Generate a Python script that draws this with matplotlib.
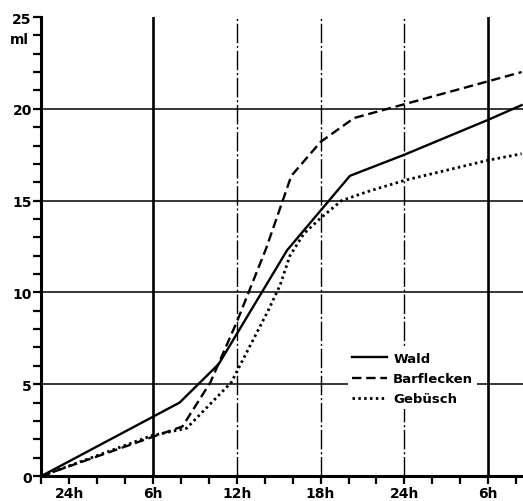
import matplotlib
matplotlib.use("Agg")
import matplotlib.pyplot as plt
from matplotlib.ticker import MultipleLocator, FixedLocator

plt.rcParams['font.family'] = ['DejaVu Sans']
plt.rcParams['font.weight'] = 'bold'

# time in hours, counted from midnight of the first day (start 22h)
wald_t = [22, 31.9, 34.7, 39.6, 44.1, 48, 54, 56.4]
wald_ml = [0, 4.0, 6.1, 12.3, 16.35, 17.5, 19.4, 20.2]

barf_t = [22, 32.1, 34.1, 36.0, 38.1, 39.9, 42, 44.4, 56.4]
barf_ml = [0, 2.7, 5.1, 8.4, 12.4, 16.35, 18.2, 19.5, 22.0]

gebu_t = [22, 29.9, 32.4, 35.6, 38.3, 39.1, 39.8, 40.8, 42, 43.5, 45.4, 48, 54, 56.4]
gebu_ml = [0, 2.2, 2.6, 5.1, 9.1, 10.4, 12.0, 13.2, 14.05, 15.0, 15.5, 16.1, 17.2, 17.55]

tick_hours = [24, 30, 36, 42, 48, 54]
tick_labels = ["24h", "6h", "12h", "18h", "24h", "6h"]
y_ticks = [0, 5, 10, 15, 20, 25]

hlines = [5, 10, 15, 20]
thick_vlines = [30, 54]
thin_vlines = [36, 42, 48]

fig = plt.figure(figsize=(5.23, 5.02), dpi=100)
ax = fig.add_axes([0.0793, 0.0498, 0.9207, 0.9143])

for y in hlines:
    ax.axhline(y, color='black', lw=1.1, zorder=1)
for x in thick_vlines:
    ax.axvline(x, color='black', lw=1.9, zorder=6)
for x in thin_vlines:
    ax.axvline(x, color='black', lw=1.0, ls=(0, (14, 2, 1.5, 2)), zorder=1)

ax.plot(wald_t, wald_ml, color='black', lw=1.7, label='Wald', zorder=3)
ax.plot(barf_t, barf_ml, color='black', lw=1.7, ls=(0, (4, 2)),
        label='Barflecken', zorder=3)
ax.plot(gebu_t, gebu_ml, color='black', lw=2.0, ls=(0, (0.9, 1.2)),
        label='Gebüsch', zorder=3)

ax.set_xlim(22, 56.5)
ax.set_ylim(0, 25)

ax.spines['top'].set_visible(False)
ax.spines['right'].set_visible(False)
ax.spines['left'].set_linewidth(2.2)
ax.spines['bottom'].set_linewidth(2.2)

ax.xaxis.set_major_locator(FixedLocator(tick_hours))
ax.set_xticklabels(tick_labels)
ax.xaxis.set_minor_locator(MultipleLocator(2))
ax.yaxis.set_major_locator(FixedLocator(y_ticks))
ax.yaxis.set_minor_locator(MultipleLocator(1))
ax.tick_params(which='both', direction='out', length=5.5, width=1.6,
               color='black')
ax.tick_params(axis='both', labelsize=10, pad=1.5)
for lab in ax.get_xticklabels() + ax.get_yticklabels():
    lab.set_fontweight('bold')

ax.annotate('ml', xy=(0, 23.8), xycoords=('axes fraction', 'data'),
            xytext=(-9, 0), textcoords='offset points', ha='right',
            va='center', fontsize=10, fontweight='bold')

leg = ax.legend(loc='upper left', bbox_to_anchor=(0.652, 0.318),
                bbox_transform=fig.transFigure, frameon=True,
                fancybox=False, framealpha=1, edgecolor='none',
                facecolor='white', handlelength=2.7, handletextpad=0.45,
                labelspacing=0.55, borderpad=0.3,
                prop={'size': 9.5, 'weight': 'bold'})
leg.set_zorder(5)

fig.savefig('out.png', dpi=100, facecolor='white')
